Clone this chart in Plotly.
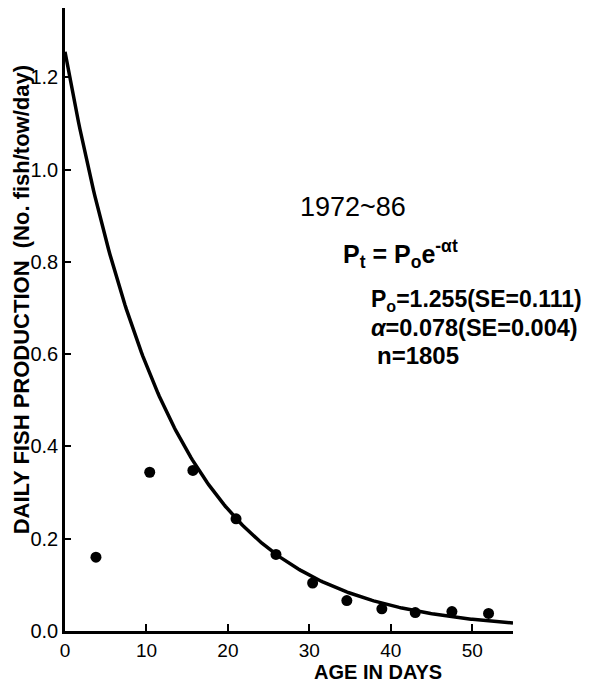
import numpy as np
import plotly.graph_objects as go

# Observed data points
age_days = [3.8, 10.4, 15.7, 21.0, 25.9, 30.4, 34.6, 38.9, 43.0, 47.5, 52.0]
production = [0.160, 0.344, 0.348, 0.243, 0.166, 0.104, 0.066, 0.048, 0.040, 0.042, 0.038]

# Fitted model parameters (stated in the chart)
P0 = 1.255
alpha = 0.078
x_max = 55
y_max = 1.35

x_ticks = [0, 10, 20, 30, 40, 50]
y_ticks = [0.0, 0.2, 0.4, 0.6, 0.8, 1.0, 1.2]

t_fit = np.linspace(0, x_max, 300)
p_fit = P0 * np.exp(-alpha * t_fit)

FONT = "Liberation Sans, Arial, sans-serif"

fig = go.Figure()
fig.add_trace(go.Scatter(x=t_fit, y=p_fit, mode="lines",
                         line=dict(color="black", width=3.5), showlegend=False))
fig.add_trace(go.Scatter(x=age_days, y=production, mode="markers",
                         marker=dict(color="black", size=11), showlegend=False))

fig.update_layout(
    width=596, height=686,
    margin=dict(l=57, r=91, t=0, b=63),
    paper_bgcolor="white", plot_bgcolor="white",
    xaxis=dict(range=[0, x_max], tickvals=x_ticks, ticktext=[str(v) for v in x_ticks],
               showgrid=False, zeroline=False, showline=True, linecolor="black",
               linewidth=2.5, ticks="inside", ticklen=7, tickwidth=2, tickcolor="black",
               tickfont=dict(family=FONT, size=19, color="black")),
    yaxis=dict(range=[0, y_max], tickvals=y_ticks, ticktext=[f"{v:.1f}" for v in y_ticks],
               showgrid=False, zeroline=False, showline=True, linecolor="black",
               linewidth=2.5, ticks="inside", ticklen=6, tickwidth=2, tickcolor="black",
               tickfont=dict(family=FONT, size=20, color="black")),
)

fig.add_annotation(xref="paper", yref="paper", x=-0.098, y=0.531,
                   xanchor="center", yanchor="middle",
                   text="<b>DAILY FISH PRODUCTION  (No. fish/tow/day)</b>",
                   textangle=-90, showarrow=False,
                   font=dict(family=FONT, size=22, color="black"))
fig.add_annotation(xref="x", yref="paper", x=38.4, y=-0.066,
                   xanchor="center", yanchor="middle",
                   text="<b>AGE IN DAYS</b>", showarrow=False,
                   font=dict(family=FONT, size=20, color="black"))

fig.add_annotation(xref="x", yref="y", x=28.55, y=0.919, xanchor="left",
                   text="1972~86", showarrow=False,
                   font=dict(family=FONT, size=27, color="black"))
fig.add_annotation(xref="x", yref="y", x=33.9, y=0.817, xanchor="left",
                   text="<b>P<sub>t</sub> = P<sub>o</sub>e<sup>-αt</sup></b>", showarrow=False,
                   font=dict(family=FONT, size=25, color="black"))
fig.add_annotation(xref="x", yref="y", x=37.3, y=0.717, xanchor="left",
                   text="<b>P<sub>o</sub>=1.255(SE=0.111)</b>", showarrow=False,
                   font=dict(family=FONT, size=23, color="black"))
fig.add_annotation(xref="x", yref="y", x=37.3, y=0.657, xanchor="left",
                   text="<b><i>α</i>=0.078(SE=0.004)</b>", showarrow=False,
                   font=dict(family=FONT, size=23.5, color="black"))
fig.add_annotation(xref="x", yref="y", x=38.0, y=0.596, xanchor="left",
                   text="<b>n=1805</b>", showarrow=False,
                   font=dict(family=FONT, size=24, color="black"))

fig.write_html("out.html")
